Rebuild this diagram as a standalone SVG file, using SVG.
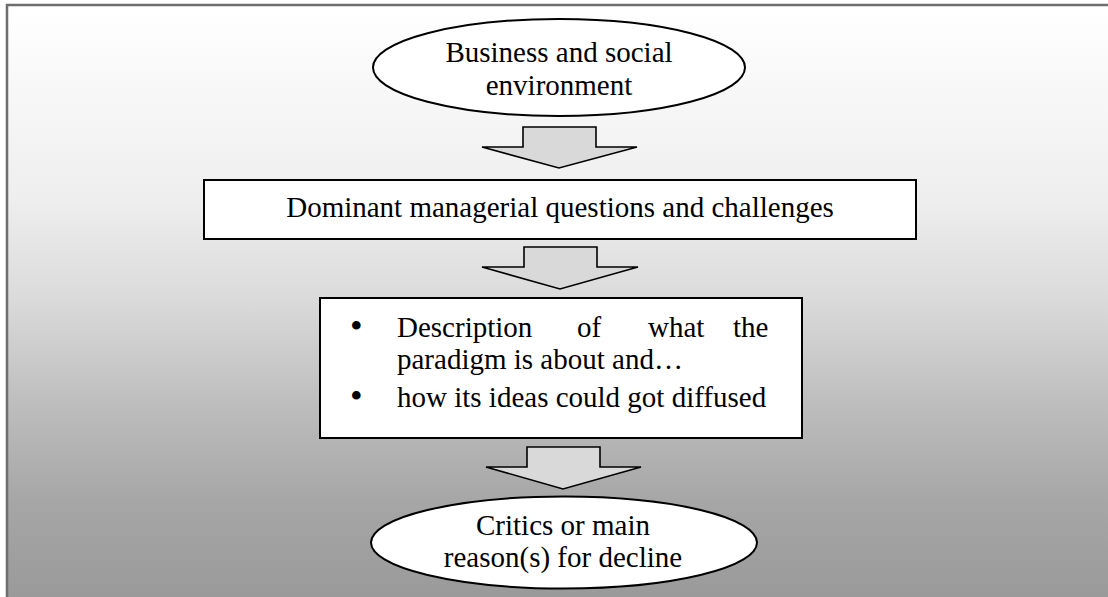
<svg xmlns="http://www.w3.org/2000/svg" width="1108" height="597" viewBox="0 0 1108 597">
<defs>
<linearGradient id="bg" x1="0" y1="5" x2="0" y2="597" gradientUnits="userSpaceOnUse">
<stop offset="0" stop-color="#ffffff"/>
<stop offset="0.33" stop-color="#eeeeee"/>
<stop offset="0.5" stop-color="#dadada"/>
<stop offset="0.67" stop-color="#bebebe"/>
<stop offset="0.84" stop-color="#a6a6a6"/>
<stop offset="1" stop-color="#9a9a9a"/>
</linearGradient>
<style>
.shape{fill:#ffffff;stroke:#000000;stroke-width:2}
.arrow{fill:#d9d9d9;stroke:#000000;stroke-width:1.6;stroke-linejoin:miter}
.t{font-family:"Liberation Serif","Times New Roman",serif;font-size:29px;fill:#000000}
.b{font-family:"Liberation Serif","Times New Roman",serif;font-size:36px;fill:#000000}
.c{text-anchor:middle}
</style>
</defs>
<rect x="7" y="5" width="1120" height="620" fill="url(#bg)" stroke="#6e6e6e" stroke-width="2.5"/>
<g id="n1">
<ellipse class="shape" cx="559" cy="67.5" rx="186" ry="48.5"/>
<text class="t c" x="559" y="62">Business and social</text>
<text class="t c" x="559" y="95">environment</text>
</g>
<g id="n2">
<rect class="shape" x="204" y="180" width="712" height="59"/>
<text class="t c" x="560" y="217">Dominant managerial questions and challenges</text>
</g>
<g id="n3">
<rect class="shape" x="320" y="298" width="482" height="140"/>
<text class="b" x="350" y="338">•</text>
<text class="t" y="337"><tspan x="397">Description</tspan><tspan x="577">of</tspan><tspan x="648">what</tspan><tspan x="733">the</tspan></text>
<text class="t" x="397" y="369">paradigm is about and…</text>
<text class="b" x="350" y="408">•</text>
<text class="t" x="397" y="407">how its ideas could got diffused</text>
</g>
<g id="n4">
<ellipse class="shape" cx="564" cy="542.5" rx="193" ry="46"/>
<text class="t c" x="563" y="535">Critics or main</text>
<text class="t c" x="563" y="567">reason(s) for decline</text>
</g>
<g id="connectors">
<polygon class="arrow" points="523,127 596,127 596,147 637,147 559,168 482,147 523,147"/>
<polygon class="arrow" points="524,247 597,247 597,267 638,267 560,289 482,267 524,267"/>
<polygon class="arrow" points="527,447 600,447 600,467 641,467 563,489 486,467 527,467"/>
</g>
</svg>
